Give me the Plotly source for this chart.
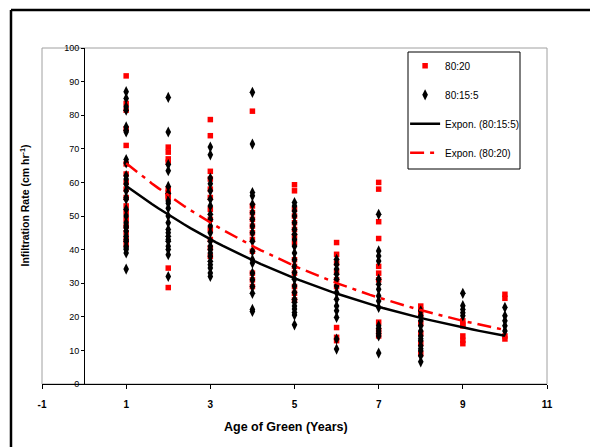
import numpy as np
import plotly.graph_objects as go

# ---------------- data ----------------
years = [1, 2, 3, 4, 5, 6, 7, 8, 9, 10]
x_ticks = [-1, 1, 3, 5, 7, 9, 11]

# 80:15:5 mix (black diamonds), infiltration rate (cm/hr) per age of green
b1 = [87, 85, 82.5, 81.5, 76.5, 75.5, 75, 66.8, 65.8, 62, 61, 59.5, 57.5, 55.5, 55, 52, 50, 48, 47,
      46.5, 45.5, 44, 43, 42.5, 41, 40.5, 40, 39, 34.2]
b2 = [85.3, 75, 65.3, 63.5, 58.8, 56.8, 54.5, 53.8, 52.3, 50, 48, 46, 45, 44, 43, 42.5, 41, 40, 38.5, 32]
b3 = [70.5, 68.2, 61.3, 59.6, 57.5, 55, 53, 50.5, 49, 47, 45, 42.5, 41, 40, 39, 38, 36.5, 35.5, 34.5, 33, 32]
b4 = [86.8, 71.4, 57, 56, 53.5, 51, 49, 47, 45, 42.5, 39.5, 37, 36, 33, 31, 29, 27, 22.2, 21.6]
b5 = [54, 53, 51.5, 50, 48, 46, 44.6, 43, 41, 39, 37, 35, 33.2, 31.2, 29.2, 27.2, 25.2, 24.3, 23.2,
      22.3, 21.3, 20.5, 17.6]
b6 = [37.1, 35.6, 34.2, 32.7, 31.2, 29.2, 27.2, 25.2, 23.2, 21.8, 19.8, 13.4, 10.4]
b7 = [50.5, 39.6, 38.1, 36.6, 31.2, 29.7, 28.2, 26.2, 24.7, 22.8, 17.3, 16.5, 15.8, 15, 14.3, 9.2]
b8 = [21.8, 20.3, 18.8, 17.3, 15.8, 14.3, 13.5, 12.9, 11.4, 10.5, 9.9, 8.4, 6.6]
b9 = [27, 23.3, 22.2, 21.2, 20.3]
b10 = [22.8, 20.3, 18.8, 17.3, 15.8]

# 80:20 mix (red squares)
r1 = [91.7, 83.5, 81.5, 76, 71, 65.5, 62.5, 60, 58, 55.5, 53, 51, 49, 47, 45, 43, 41.5]
r2 = [70.5, 69, 67, 66, 58, 57, 56, 55.5, 34.5, 28.7]
r3 = [78.7, 73.9, 63.3, 61, 58, 55.5, 52, 49, 46, 43, 40.5, 38]
r4 = [81.2, 53, 51, 49, 47, 45, 43, 39.5, 33, 31, 29]
r5 = [59.3, 57.5, 52, 50, 48, 46, 44, 42, 37, 35, 33, 29, 27, 25]
r6 = [42.1, 38.6, 36, 33.5, 31, 29, 16.8, 13.9, 12.9]
r7 = [60, 58, 48.3, 43.3, 35, 33, 31, 18.4, 16, 14.3]
r8 = [23.2, 22, 20.5, 18, 15, 12, 9]
r9 = [18.8, 17.8, 17.3, 14.3, 13, 12]
r10 = [26.7, 25.5, 14.3, 13.4]

black_groups = [b1, b2, b3, b4, b5, b6, b7, b8, b9, b10]
red_groups = [r1, r2, r3, r4, r5, r6, r7, r8, r9, r10]


def flatten(groups):
    xs, ys = [], []
    for yr, vals in zip(years, groups):
        xs += [yr] * len(vals)
        ys += list(vals)
    return np.array(xs, float), np.array(ys, float)


bx, by = flatten(black_groups)
rx, ry = flatten(red_groups)


def expon_fit(x, y):
    # Excel-style exponential trendline: least squares on ln(y)
    b, ln_a = np.polyfit(x, np.log(y), 1)
    xs = np.linspace(min(years), max(years), 60)
    return xs, np.exp(ln_a) * np.exp(b * xs)


bfx, bfy = expon_fit(bx, by)
rfx, rfy = expon_fit(rx, ry)

FONT = "Liberation Sans, Arial, sans-serif"

fig = go.Figure()
fig.add_trace(go.Scatter(x=rx, y=ry, mode="markers", name="80:20",
                         marker=dict(symbol="square", size=5.5, color="#ff0000",
                                     line=dict(width=0)),
                         legendgroup="a"))
fig.add_trace(go.Scatter(x=bx, y=by, mode="markers", name="80:15:5",
                         marker=dict(symbol="diamond-tall", size=8, color="#000000",
                                     line=dict(width=0)),
                         legendgroup="b"))
fig.add_trace(go.Scatter(x=bfx, y=bfy, mode="lines", name="Expon. (80:15:5)",
                         line=dict(color="#000000", width=2.5),
                         legendgroup="c"))
fig.add_trace(go.Scatter(x=rfx, y=rfy, mode="lines", name="Expon. (80:20)",
                         line=dict(color="#ff0000", width=2.5, dash="14px,6px,4px,6px"),
                         legendgroup="d"))

FX = -0.0614   # left edge of the outer frame (paper)
FY = 1.113     # top edge of the outer frame (paper)

fig.update_layout(
    width=590, height=447,
    margin=dict(l=42, r=43, t=48, b=63),
    paper_bgcolor="white", plot_bgcolor="white",
    font=dict(family=FONT, color="black", size=10),
    showlegend=True,
    legend=dict(x=0.719, y=0.99, xanchor="left", yanchor="top",
                bgcolor="rgba(0,0,0,0)", borderwidth=0,
                font=dict(family=FONT, size=10, color="black"),
                traceorder="grouped", tracegroupgap=10,
                itemwidth=30),
    xaxis=dict(range=[-1, 11], tickvals=x_ticks, ticktext=[str(v) for v in x_ticks],
               showline=True, linecolor="black", linewidth=1.3,
               ticks="outside", ticklen=4, tickcolor="black", tickwidth=1,
               ticklabelstandoff=7,
               tickfont=dict(family=FONT, size=10, weight="bold", color="black"),
               showgrid=False, zeroline=False),
    yaxis=dict(range=[0, 100], dtick=10, anchor="free", position=1 / 12,
               showline=True, linecolor="black", linewidth=1.2,
               ticks="outside", ticklen=3, tickcolor="black",
               tickfont=dict(family=FONT, size=9, color="black"),
               showgrid=False, zeroline=False),
    shapes=[
        # grey plot-area border
        dict(type="rect", xref="paper", yref="paper", x0=0, x1=1, y0=0, y1=1,
             line=dict(color="#a0a0a0", width=1), layer="below"),
        # outer black chart frame: only its left and top edges are inside the picture
        dict(type="line", xref="paper", yref="paper", x0=FX, x1=FX, y0=-0.2, y1=FY,
             line=dict(color="black", width=2.5), layer="below"),
        dict(type="line", xref="paper", yref="paper", x0=FX, x1=1.3, y0=FY, y1=FY,
             line=dict(color="black", width=2.5), layer="below"),
        # legend box
        dict(type="rect", xref="paper", yref="paper",
             x0=(408 - 42) / 505, x1=(520 - 42) / 505,
             y0=(384 - 169) / 336, y1=(384 - 52) / 336,
             line=dict(color="black", width=1), fillcolor="white", layer="above"),
    ],
    annotations=[
        dict(text="<b>Infiltration Rate (cm hr<sup>-1</sup>)</b>", textangle=-90,
             xref="paper", yref="paper", x=-0.0345, y=0.53, showarrow=False,
             xanchor="center", yanchor="middle",
             font=dict(family=FONT, size=10.5, color="black")),
        dict(text="<b>Age of Green (Years)</b>", xref="paper", yref="paper",
             x=0.484, y=-0.128, showarrow=False, xanchor="center", yanchor="middle",
             font=dict(family=FONT, size=12.5, color="black")),
    ],
)

# remove the default 8px page margin so the figure fills the window exactly
fig.write_html("out.html",
               config={"displayModeBar": False},
               post_script="document.body.style.margin='0';"
                           "document.body.style.overflow='hidden';")
